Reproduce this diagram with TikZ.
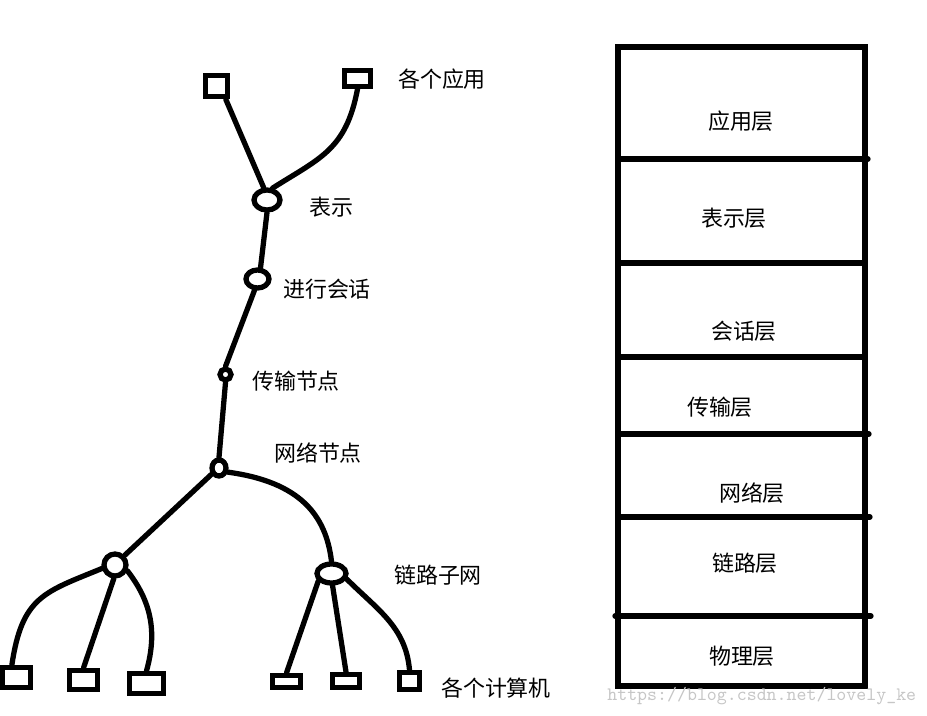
\documentclass[tikz,border=0pt]{standalone}
\usepackage{fontspec}
\setmainfont{Noto Sans CJK SC}
\usetikzlibrary{shapes.geometric}

\tikzset{
  hand/.style={line width=3pt, line cap=round, line join=round},
  knot/.style={draw, ellipse, line width=3pt, inner sep=0pt},
  term/.style={draw, rectangle, line width=3pt, inner sep=0pt},
  lbl/.style={font=\fontsize{12.5}{15}\selectfont, inner sep=0pt},
}

\begin{document}
\begin{tikzpicture}[x=0.02cm,y=-0.02cm]
\useasboundingbox (0,0) rectangle (927,716);
% application squares
\node[term, minimum width=0.44cm, minimum height=0.42cm] (app1) at (216.5,86) {};
\node[term, minimum width=0.52cm, minimum height=0.32cm] (app2) at (357.5,78.5) {};
% inner knots of the tree
\node[knot, minimum width=0.52cm, minimum height=0.40cm] (pres) at (267,200) {};
\node[knot, minimum width=0.46cm, minimum height=0.36cm] (sess) at (257.5,279) {};
\node[knot, minimum width=0.22cm, minimum height=0.22cm] (trans) at (225.5,374.5) {};
\node[knot, minimum width=0.28cm, minimum height=0.32cm] (net) at (219,468) {};
\node[knot, minimum width=0.44cm, minimum height=0.44cm] (subL) at (115,565) {};
\node[knot, minimum width=0.58cm, minimum height=0.38cm] (subR) at (331.5,573.5) {};
% computer squares
\node[term, minimum width=0.56cm, minimum height=0.40cm] (pc1) at (16.5,677.5) {};
\node[term, minimum width=0.56cm, minimum height=0.38cm] (pc2) at (83.5,680) {};
\node[term, minimum width=0.68cm, minimum height=0.40cm] (pc3) at (146.5,683.5) {};
\node[term, minimum width=0.56cm, minimum height=0.24cm] (pc4) at (286.5,681.5) {};
\node[term, minimum width=0.54cm, minimum height=0.26cm] (pc5) at (346,681) {};
\node[term, minimum width=0.40cm, minimum height=0.34cm] (pc6) at (409.5,681) {};
% tree branches
\draw[hand] (app1.-55) -- (pres.105);
\draw[hand] (app2.south) .. controls (346,150) and (320,158) .. (pres.65);
\draw[hand] (pres.south) -- (sess.75);
\draw[hand] (sess.-105) -- (trans.north);
\draw[hand] (trans.south) -- (net.north);
\draw[hand] (net.-140) -- (subL.45);
\draw[hand] (net.-25) .. controls (300,482) and (326,515) .. (subR.north);
\draw[hand] (subL.195) .. controls (45,592) and (22,596) .. (pc1.110);
\draw[hand] (subL.-95) -- (pc2.north);
\draw[hand] (subL.-25) .. controls (150,600) and (158,630) .. (pc3.north);
\draw[hand] (subR.-150) -- (pc4.north);
\draw[hand] (subR.-85) -- (pc5.north);
\draw[hand] (subR.-20) to[out=-45,in=95] (pc6.north);
% tree labels
\node[lbl] (tApp) at (442,79) {各个应用};
\node[lbl] (tPres) at (331,207) {表示};
\node[lbl] (tSess) at (327,289) {进行会话};
\node[lbl] (tTrans) at (296,381) {传输节点};
\node[lbl] (tNet) at (318,453) {网络节点};
\node[lbl] (tSub) at (438,575) {链路子网};
\node[lbl] (tPc) at (496,688) {各个计算机};
% layer stack
\draw[line width=3pt] (618,47) rectangle (865,686);
\foreach \y/\xa/\xb in {159/618/868, 263/618/865, 357/618/865, 434/618/869, 517/618/870, 616/615/871}
  \draw[hand] (\xa,\y) -- (\xb,\y);
\foreach \x/\y/\t [count=\i] in {741/121/应用层, 734/218/表示层, 744/331/会话层, 720/407/传输层, 752/493/网络层, 745/563/链路层, 742/656/物理层}
  \node[lbl] (layer\i) at (\x,\y) {\t};
% watermark
\node[font=\ttfamily\fontsize{10.8}{12}\selectfont, text=gray!45, inner sep=0pt, anchor=west] (mark) at (607,696) {https://blog.csdn.net/lovely\_ke};
\end{tikzpicture}
\end{document}
